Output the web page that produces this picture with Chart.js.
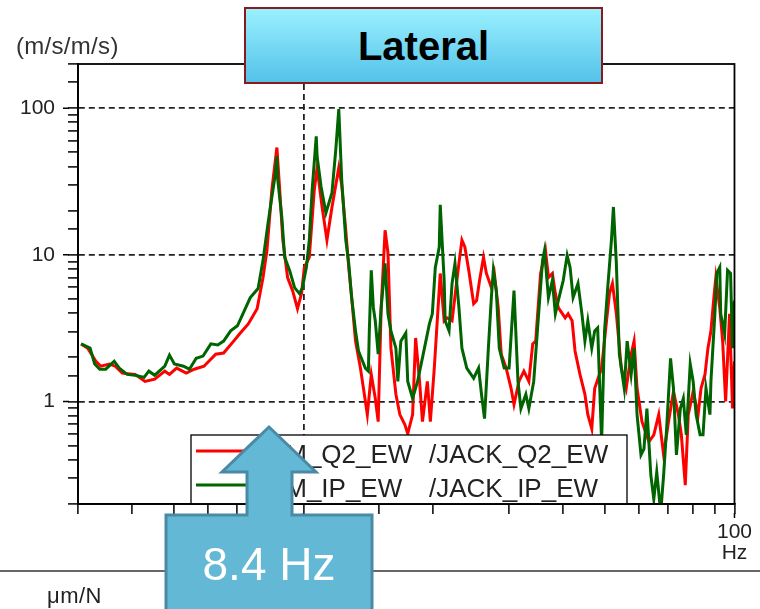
<!DOCTYPE html>
<html>
<head>
<meta charset="utf-8">
<script src="https://cdn.jsdelivr.net/npm/chart.js@4.4.1/dist/chart.umd.min.js"></script>
<style>
  body { margin: 0; background: #fff; }
  #wrap { position: relative; width: 760px; height: 609px; overflow: hidden; font-family: 'Liberation Sans', Arial, sans-serif; }
  #frf { position: absolute; left: 0; top: 0; }
  .unit { position: absolute; left: 16px; top: 32px; font-size: 24px; letter-spacing: 0.3px; color: #333; }
  .title { position: absolute; left: 244px; top: 7px; width: 355px; height: 73px; border: 2px solid #8b1a1a;
           background: linear-gradient(#9af1ff, #54c2e8); text-align: center; font-weight: bold; font-size: 40px;
           line-height: 75px; color: #000; }
  .rule { position: absolute; left: 0; top: 570px; width: 760px; height: 2px; background: #666; }
  .mu { position: absolute; left: 47px; top: 583px; font-size: 22px; letter-spacing: 0.5px; color: #222; }
  svg { position: absolute; left: 0; top: 0; }
</style>
</head>
<body>
<div id="wrap">
  <canvas id="frf" width="760" height="609"></canvas>
  <div class="unit">(m/s/m/s)</div>
  <div class="title">Lateral</div>
  <div class="rule"></div>
  <div class="mu">μm/N</div>
  <svg width="760" height="609">
    <path d="M269 427 L316 472 L292 472 L292 515 L372 515 L372 615 L166 615 L166 515 L247 515 L247 472 L222 472 Z"
          fill="#63b8d6" stroke="#4a8aa5" stroke-width="3"/>
    <text x="269" y="580" text-anchor="middle" fill="#fff" font-size="46" font-family="Liberation Sans, Arial, sans-serif">8.4 Hz</text>
  </svg>
</div>
<script>
// legend names
const legendNames = ['ETM_Q2_EW', 'ETM_IP_EW'];
const legendRefs = ['/JACK_Q2_EW', '/JACK_IP_EW'];

// Q2 (red) transfer function, Hz vs (m/s)/(m/s)
const freqRed = [
  3.05, 3.16, 3.30, 3.39, 3.55, 3.66, 3.80, 4.07, 4.29, 4.52,
  4.77, 4.89, 5.08, 5.35, 5.58, 5.88, 6.26, 6.53, 6.89, 7.14,
  7.45, 7.81, 8.06, 8.23, 8.45, 8.68, 8.81, 8.96, 9.19, 9.44,
  9.69, 9.90, 10.05, 10.32, 10.60, 10.76, 11.05, 11.34, 11.65, 12.08,
  12.27, 12.54, 12.74, 12.94, 13.21, 13.56, 13.78, 14.07, 14.37, 14.68,
  14.91, 15.15, 15.47, 15.71, 15.96, 16.39, 16.74, 17.19, 17.46, 17.92,
  18.21, 18.60, 18.89, 19.39, 19.70, 20.12, 20.44, 20.77, 21.21, 21.54,
  22.12, 22.95, 23.32, 23.69, 24.19, 24.83, 25.22, 25.62, 26.17, 26.58,
  27.29, 27.73, 28.31, 28.77, 29.54, 30.32, 30.80, 31.62, 32.47, 33.34,
  34.04, 34.58, 35.50, 36.44, 37.02, 37.81, 38.41, 39.02, 40.48, 41.12,
  42.01, 42.67, 43.81, 44.98, 45.69, 46.66, 47.40, 49.18, 50.49, 51.29,
  52.11, 53.21, 54.63, 56.08, 57.58, 58.49, 59.43, 61.01, 63.31, 64.99,
  66.72, 68.49, 70.31, 72.19, 74.12, 75.29, 76.89, 78.12, 80.19, 82.33,
  83.64, 85.43, 86.79, 88.18, 89.58, 90.52, 92.43, 93.88, 95.38, 97.41,
  98.95, 100
];
const magRed = [
  2.47, 2.31, 1.88, 1.74, 1.80, 1.74, 1.56, 1.53, 1.37, 1.42,
  1.61, 1.53, 1.69, 1.56, 1.66, 1.74, 2.10, 2.14, 2.58, 2.93,
  3.38, 4.29, 7.00, 10.7, 27.8, 53.9, 27.8, 12.6, 7.00, 5.70,
  4.29, 5.44, 8.21, 9.61, 27.8, 39.3, 21.2, 12.6, 21.2, 39.3,
  30.0, 14.7, 8.21, 5.11, 2.58, 1.69, 1.23, 0.814, 1.53, 1.05,
  0.729, 4.36, 14.7, 10.3, 2.31, 1.12, 0.814, 0.695, 0.603, 0.814,
  2.71, 1.37, 0.729, 1.37, 0.729, 1.69, 3.55, 7.46, 3.55, 3.72,
  3.55, 8.74, 12.6, 11.3, 7.83, 4.64, 4.87, 6.68, 9.61, 7.46,
  5.98, 7.46, 4.36, 2.10, 1.69, 1.23, 0.954, 1.37, 1.61, 1.37,
  2.47, 2.58, 7.46, 10.7, 7.00, 7.46, 5.44, 4.36, 3.72, 3.96,
  3.55, 2.21, 1.53, 1.12, 0.814, 0.652, 1.23, 1.69, 3.55, 5.44,
  6.37, 3.96, 1.69, 1.23, 2.10, 2.58, 1.23, 0.729, 0.531, 0.593,
  0.814, 0.432, 0.729, 1.17, 0.814, 0.593, 0.269, 0.814, 1.17, 0.814,
  1.23, 1.53, 2.31, 3.03, 5.11, 7.00, 4.36, 2.58, 1.00, 3.96,
  0.895, 1.88
];

// IP (green) transfer function
const freqGreen = [
  3.05, 3.20, 3.28, 3.37, 3.48, 3.64, 3.74, 3.90, 4.07, 4.27,
  4.38, 4.52, 4.77, 4.89, 5.02, 5.27, 5.44, 5.64, 5.85, 6.10,
  6.33, 6.53, 6.78, 7.03, 7.26, 7.53, 7.85, 8.06, 8.28, 8.45,
  8.59, 8.68, 8.72, 8.91, 9.05, 9.29, 9.54, 9.79, 9.95, 10.16,
  10.32, 10.48, 10.71, 10.76, 10.99, 11.28, 11.65, 11.89, 12.08, 12.27,
  12.54, 12.74, 12.94, 13.21, 13.42, 13.92, 14.15, 14.22, 14.37, 14.53,
  14.68, 14.91, 15.15, 15.47, 15.71, 15.96, 16.39, 16.56, 16.83, 17.28,
  17.46, 17.92, 18.40, 19.09, 19.60, 19.91, 20.23, 20.66, 20.77, 21.21,
  21.32, 21.77, 22.12, 22.47, 22.95, 23.32, 23.93, 24.83, 25.49, 25.89,
  26.31, 26.86, 27.29, 27.58, 28.02, 28.47, 29.23, 30.00, 30.80, 31.46,
  31.96, 32.81, 33.34, 34.22, 35.13, 35.87, 36.25, 37.02, 37.81, 38.41,
  39.02, 40.06, 40.91, 41.56, 42.23, 43.35, 44.27, 44.98, 45.69, 46.66,
  47.40, 48.15, 49.18, 49.96, 50.75, 51.83, 52.38, 53.21, 54.06, 55.49,
  56.37, 57.58, 58.49, 59.43, 60.69, 61.66, 62.64, 63.97, 64.99, 66.02,
  67.43, 68.49, 69.59, 71.07, 72.19, 73.34, 74.89, 76.09, 77.30, 78.95,
  80.19, 81.47, 83.21, 84.53, 85.88, 87.71, 88.18, 90.05, 90.99, 92.43,
  92.91, 94.88, 96.38, 97.93, 98.95, 100
];
const magGreen = [
  2.47, 2.31, 1.80, 1.66, 1.66, 1.88, 1.69, 1.53, 1.51, 1.46,
  1.61, 1.51, 1.74, 2.07, 1.80, 1.74, 1.66, 1.97, 2.04, 2.47,
  2.43, 2.58, 3.03, 3.28, 4.03, 5.11, 5.89, 9.17, 16.5, 24.8,
  34.1, 46.8, 32.5, 18.1, 9.61, 7.83, 5.98, 5.44, 5.98, 8.21,
  12.6, 27.8, 64.2, 46.8, 29.1, 19.3, 26.5, 52.3, 98.4, 32.5,
  12.6, 8.74, 5.11, 3.03, 2.21, 1.69, 1.61, 3.03, 7.83, 4.36,
  3.55, 2.10, 4.36, 8.74, 3.96, 3.03, 2.31, 1.37, 2.58, 2.93,
  1.37, 1.05, 1.37, 2.31, 3.38, 3.96, 8.21, 11.3, 21.9, 6.68,
  3.55, 3.03, 6.37, 8.74, 4.36, 2.31, 1.69, 1.44, 1.69, 1.12,
  0.764, 2.31, 5.11, 7.83, 5.70, 2.31, 1.69, 1.69, 5.70, 1.37,
  0.895, 1.12, 0.895, 1.37, 3.96, 9.17, 10.7, 5.11, 6.68, 3.96,
  4.87, 6.68, 9.92, 8.21, 5.11, 6.37, 3.96, 2.58, 3.55, 2.31,
  3.03, 3.18, 0.531, 3.03, 5.70, 12.6, 21.2, 8.74, 2.10, 1.23,
  2.58, 1.53, 2.31, 0.814, 0.432, 0.475, 0.895, 0.315, 0.216, 0.33,
  0.175, 0.315, 0.652, 1.97, 1.23, 0.432, 0.895, 1.05, 0.593, 1.80,
  1.37, 0.814, 0.593, 0.593, 1.23, 0.814, 1.37, 3.96, 7.46, 8.21,
  3.96, 2.89, 7.83, 7.46, 2.31, 4.87
];

const yLabels = [1, 10, 100];
const xLabels = [10, 100];

const toPoints = (xs, ys) => xs.map((x, i) => ({ x: x, y: ys[i] }));
const near = (v, list) => list.some(t => Math.abs(v - t) < 1e-6 * t);

// frame on top/right, longer major ticks, boxed legend
const framePlugin = {
  id: 'frame',
  afterDatasetsDraw(chart) {
    const { ctx, chartArea: a, scales } = chart;
    ctx.save();
    const box = { left: 191, top: 435, right: 627, bottom: a.bottom };
    ctx.fillStyle = '#fff';
    ctx.fillRect(box.left, box.top, box.right - box.left, box.bottom - box.top);
    ctx.strokeStyle = '#000';
    ctx.lineWidth = 1.3;
    ctx.strokeRect(box.left, box.top, box.right - box.left, box.bottom - box.top);
    const rows = [451, 485];
    chart.data.datasets.forEach((ds, i) => {
      ctx.strokeStyle = ds.borderColor;
      ctx.lineWidth = 3;
      ctx.beginPath();
      ctx.moveTo(196, rows[i]);
      ctx.lineTo(246, rows[i]);
      ctx.stroke();
      ctx.fillStyle = '#222';
      ctx.font = '26px "Liberation Sans", Arial, sans-serif';
      ctx.textBaseline = 'alphabetic';
      ctx.fillText(legendNames[i], 252, rows[i] + 12);
      ctx.fillText(legendRefs[i], 429, rows[i] + 12);
    });
    ctx.strokeStyle = '#000';
    ctx.lineWidth = 1.8;
    ctx.strokeRect(a.left, a.top, a.right - a.left, a.bottom - a.top);
    // major tick extensions
    ctx.lineWidth = 1.5;
    ctx.beginPath();
    yLabels.forEach(v => {
      const y = scales.y.getPixelForValue(v);
      ctx.moveTo(a.left - 15, y);
      ctx.lineTo(a.left - 9, y);
    });
    xLabels.forEach(v => {
      const x = scales.x.getPixelForValue(v);
      ctx.moveTo(x, a.bottom + 9);
      ctx.lineTo(x, a.bottom + 14);
    });
    ctx.stroke();
    ctx.restore();
  }
};

const tickFont = { family: 'Liberation Sans', size: 21, lineHeight: 1 };

new Chart(document.getElementById('frf'), {
  type: 'line',
  data: {
    datasets: [
      { label: legendNames[0], data: toPoints(freqRed, magRed), borderColor: '#ff0000',
        borderWidth: 3, pointRadius: 0, tension: 0, order: 2 },
      { label: legendNames[1], data: toPoints(freqGreen, magGreen), borderColor: '#006400',
        borderWidth: 3, pointRadius: 0, tension: 0, order: 1 }
    ]
  },
  options: {
    responsive: false,
    animation: false,
    devicePixelRatio: 1,
    layout: { padding: { left: 0, top: 64, right: 18, bottom: 0 } },
    plugins: { legend: { display: false }, tooltip: { enabled: false } },
    scales: {
      x: {
        type: 'logarithmic', min: 3, max: 100,
        afterFit(s) { s.height = 105; },
        grid: {
          color: c => (c.tick && near(c.tick.value, [10])) ? '#222' : 'rgba(0,0,0,0)',
          lineWidth: 1.8, tickColor: '#000', tickLength: 10, tickWidth: 1.5
        },
        border: { display: true, color: '#000', width: 1.8, dash: [6, 4] },
        ticks: {
          autoSkip: false, maxRotation: 0, padding: 8, color: '#222', font: tickFont,
          callback: v => near(v, [100]) ? ['100', 'Hz'] : (near(v, xLabels) ? String(v) : '')
        }
      },
      y: {
        type: 'logarithmic', min: 0.2, max: 200,
        afterFit(s) { s.width = 78; },
        grid: {
          color: c => (c.tick && near(c.tick.value, yLabels)) ? '#222' : 'rgba(0,0,0,0)',
          lineWidth: 1.8, tickColor: '#000', tickLength: 10, tickWidth: 1.5
        },
        border: { display: true, color: '#000', width: 1.8, dash: [6, 4] },
        ticks: {
          autoSkip: false, padding: 13, color: '#222', font: tickFont,
          callback: v => near(v, yLabels) ? String(v) : ''
        }
      }
    }
  },
  plugins: [framePlugin]
});
</script>
</body>
</html>
